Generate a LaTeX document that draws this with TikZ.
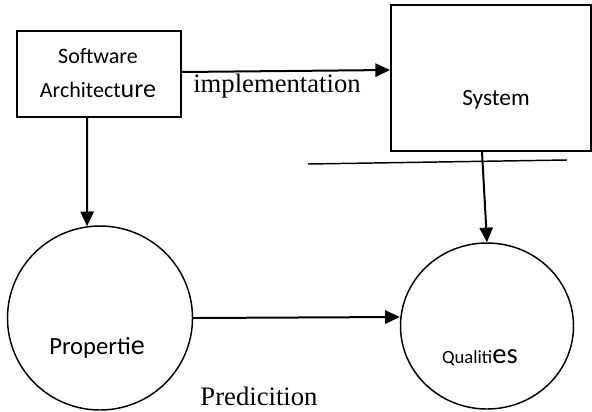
\documentclass[tikz,border=0pt]{standalone}
\usepackage{fontspec}
\setmainfont{Liberation Serif}
\newfontfamily\calibri{Carlito}
\usetikzlibrary{arrows.meta,positioning,shapes.geometric}

\begin{document}
\begin{tikzpicture}[x=0.75pt,y=-0.75pt,>={Triangle[length=11pt,width=10pt]},
  box/.style={draw,line width=1.5pt,inner sep=0pt},
  bubble/.style={draw,ellipse,line width=1.1pt,inner sep=0pt},
  arr/.style={->,line width=1.5pt},
  sans/.style={font=\calibri\fontsize{16.5}{25.5}\selectfont},
  serif/.style={font=\fontsize{20}{24}\selectfont}]
\useasboundingbox (0,0) rectangle (592,411);
% boxes
\node[box,minimum width=123pt,minimum height=64.5pt] (arch) at (99,74) {};
\node[box,minimum width=150pt,minimum height=109.5pt] (sys) at (491,78) {};
% bubbles
\node[bubble,minimum width=138.75pt,minimum height=138pt] (prop) at (100,318) {};
\node[bubble,minimum width=129.75pt,minimum height=124.5pt] (qual) at (487,326) {};
% texts
\node[sans,align=center] (archtxt) at (98,73) {Software\\Architect{\fontsize{19.5}{25.5}\selectfont ure}};
\node[sans,font=\calibri\fontsize{17.5}{20}\selectfont] (systxt) at (496,100) {System};
\node[sans,font=\calibri\fontsize{18.5}{20}\selectfont] (proptxt) at (97,348) {Properti{\fontsize{21}{20}\selectfont e}};
\node[sans,font=\calibri\fontsize{14}{20}\selectfont] (qualtxt) at (480,358) {Qualiti{\fontsize{21.5}{20}\selectfont es}};
\node[serif] (impl) at (277,86) {implementation};
\node[serif] (pred) at (259,396) {Predicition};
% connectors
\draw[arr] ([yshift=1.5pt]arch.east) -- ([yshift=6pt]sys.west);
\draw[arr] ([xshift=-9pt]arch.south) -- (prop.98);
\draw[arr] ([xshift=-6.75pt]sys.south) -- (qual.north);
\draw[arr] (prop.east) -- ([yshift=6.75pt]qual.west);
\coordinate (cut1) at (308,164);
\coordinate (cut2) at (567,160);
\draw[line width=1.1pt] (cut1) -- (cut2);
\end{tikzpicture}
\end{document}
